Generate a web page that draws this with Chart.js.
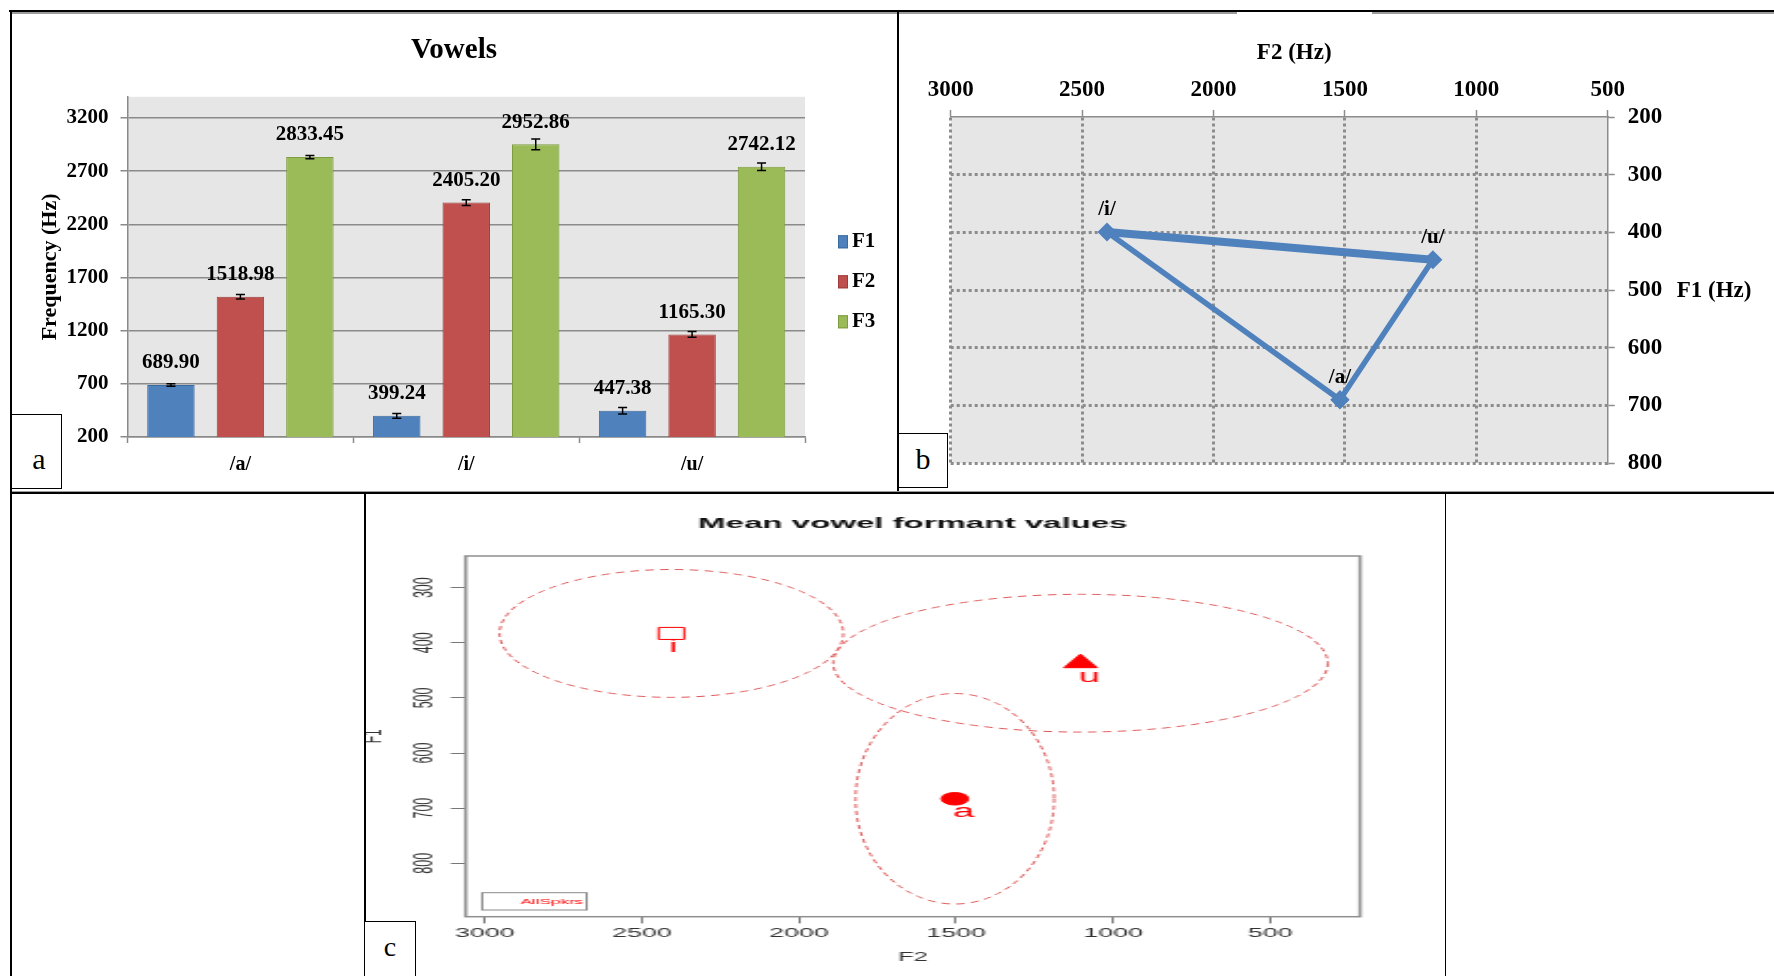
<!DOCTYPE html>
<html lang="en">
<head>
<meta charset="UTF-8">
<title>Vowel formants</title>
<script src="https://cdn.jsdelivr.net/npm/chart.js"></script>
<style>
  html, body { margin: 0; padding: 0; background: #fff; }
  body { position: relative; width: 1774px; height: 976px; overflow: hidden; }
  .pane { position: absolute; }
  .rule { position: absolute; background: #000; }
  .rule.grey { background: #9c9c9c; }
  .tag { position: absolute; box-sizing: border-box; border: 1px solid #000; background: #fff;
         font-family: 'Liberation Serif', serif; color: #000; }
  .tag span { position: absolute; left: 0; right: 0; text-align: center; line-height: 1; }
</style>
</head>
<body>
<div class="pane" style="left:12px;top:14px;width:884px;height:476px"><canvas id="vowelBars"></canvas></div>
<div class="pane" style="left:900px;top:14px;width:874px;height:476px"><canvas id="vowelSpace"></canvas></div>
<!-- the R plot sits stretched sideways inside its frame -->
<div class="pane" style="left:364px;top:494px;width:515px;height:482px;transform:scaleX(2.13);transform-origin:0 0"><canvas id="vowelEllipses"></canvas></div>

<div class="rule" style="left:9px;top:10px;width:1765px;height:2px"></div>
<div class="rule grey" style="left:12px;top:12px;width:1225px;height:2px"></div>
<div class="rule grey" style="left:1372px;top:12px;width:402px;height:2px"></div>
<div class="rule" style="left:10px;top:10px;width:2px;height:966px"></div>
<div class="rule" style="left:897px;top:10px;width:2px;height:483px"></div>
<div class="rule grey" style="left:12px;top:490.5px;width:1762px;height:1.5px"></div>
<div class="rule" style="left:10px;top:492px;width:1764px;height:2px"></div>
<div class="rule" style="left:364px;top:493px;width:1.5px;height:483px"></div>
<div class="rule" style="left:1444.5px;top:493px;width:1.5px;height:483px"></div>

<div class="tag" style="left:11px;top:414px;width:51px;height:75px;font-size:30px"><span style="top:29px;padding-left:5px">a</span></div>
<div class="tag" style="left:898px;top:433px;width:50px;height:55px;font-size:30px"><span style="top:10px">b</span></div>
<div class="tag" style="left:364px;top:921px;width:52px;height:60px;font-size:28px"><span style="top:10.5px">c</span></div>

<script>
// mean formants (Hz) per vowel, with error bar half-widths
const vowels = ['/a/', '/i/', '/u/'];
const meanF1 = [689.90, 399.24, 447.38];
const meanF2 = [1518.98, 2405.20, 1165.30];
const meanF3 = [2833.45, 2952.86, 2742.12];
const errF1 = [12, 22, 30];
const errF2 = [22, 27, 27];
const errF3 = [15, 50, 35];
const freqTicks = [200, 700, 1200, 1700, 2200, 2700, 3200];

// vowel triangle: a -> i -> u -> back to a
const triangleOrder = [0, 1, 2, 0];
const f2Ticks = [3000, 2500, 2000, 1500, 1000, 500];
const f1Ticks = [200, 300, 400, 500, 600, 700, 800];

// speaker means with spread ellipses (R plot)
const rVowels = ['i', 'u', 'a'];
const rF2 = [2406, 1104, 1504];
const rF1 = [383, 437, 683];
const rF2Spread = [547, 787, 316];
const rF1Spread = [116, 125, 191];
const rF2Ticks = [3000, 2500, 2000, 1500, 1000, 500];
const rF1Ticks = [300, 400, 500, 600, 700, 800];

Chart.defaults.font.family = "'Liberation Serif', serif";
Chart.defaults.color = '#000';
Chart.defaults.animation = false;
Chart.defaults.plugins.tooltip.enabled = false;
Chart.defaults.plugins.legend.display = false;

const serifBold = size => ({ family: "'Liberation Serif', serif", size, weight: 'bold' });
const sans = (size, weight) => ({ family: "'Liberation Sans', Arial, sans-serif", size, weight: weight || 'normal' });
const fixedTicks = list => scale => { scale.ticks = list.map(value => ({ value })); };
const plain = v => String(v);

const plotBackground = {
  id: 'plotBackground',
  beforeDraw(chart, args, opts) {
    const { ctx, chartArea: a } = chart;
    ctx.save();
    ctx.fillStyle = opts.color;
    ctx.fillRect(a.left, a.top, a.width, a.height);
    ctx.restore();
  }
};

const errorBars = {
  id: 'errorBars',
  afterDatasetsDraw(chart) {
    const { ctx, scales: { y } } = chart;
    ctx.save();
    ctx.strokeStyle = '#000';
    ctx.lineWidth = 1.5;
    chart.data.datasets.forEach((ds, i) => {
      chart.getDatasetMeta(i).data.forEach((bar, j) => {
        const top = y.getPixelForValue(ds.data[j] + ds.errors[j]);
        const bot = y.getPixelForValue(ds.data[j] - ds.errors[j]);
        ctx.beginPath();
        ctx.moveTo(bar.x, top); ctx.lineTo(bar.x, bot);
        ctx.moveTo(bar.x - 4.5, top); ctx.lineTo(bar.x + 4.5, top);
        ctx.moveTo(bar.x - 4.5, bot); ctx.lineTo(bar.x + 4.5, bot);
        ctx.stroke();
      });
    });
    ctx.restore();
  }
};

const barValues = {
  id: 'barValues',
  afterDatasetsDraw(chart) {
    const { ctx } = chart;
    ctx.save();
    ctx.font = "bold 21px 'Liberation Serif'";
    ctx.fillStyle = '#000';
    ctx.textAlign = 'center';
    ctx.textBaseline = 'middle';
    chart.data.datasets.forEach((ds, i) => {
      chart.getDatasetMeta(i).data.forEach((bar, j) => {
        ctx.fillText(ds.data[j].toFixed(2), bar.x, bar.y - 22);
      });
    });
    ctx.restore();
  }
};

const sideLegend = {
  id: 'sideLegend',
  afterDraw(chart) {
    const { ctx, chartArea } = chart;
    const x = chartArea.right + 33;
    ctx.save();
    ctx.font = "bold 21px 'Liberation Serif'";
    ctx.textBaseline = 'middle';
    chart.data.datasets.forEach((ds, i) => {
      const y = chartArea.top + 145 + i * 40;
      ctx.fillStyle = ds.backgroundColor;
      ctx.fillRect(x, y - 6.5, 10, 13);
      ctx.strokeStyle = ds.borderColor;
      ctx.lineWidth = 1;
      ctx.strokeRect(x + 0.5, y - 6, 9, 12);
      ctx.fillStyle = '#000';
      ctx.fillText(ds.label, x + 14, y);
    });
    ctx.restore();
  }
};

// a: grouped bars of F1-F3
new Chart(document.getElementById('vowelBars'), {
  type: 'bar',
  data: {
    labels: vowels,
    datasets: [
      { label: 'F1', data: meanF1, errors: errF1, backgroundColor: '#4F81BD', borderColor: '#3A6B9F' },
      { label: 'F2', data: meanF2, errors: errF2, backgroundColor: '#C0504D', borderColor: '#9C3C39' },
      { label: 'F3', data: meanF3, errors: errF3, backgroundColor: '#9BBB59', borderColor: '#7D9C40' }
    ]
  },
  options: {
    responsive: true,
    maintainAspectRatio: false,
    datasets: { bar: { categoryPercentage: 0.923, barPercentage: 0.683, borderWidth: 1 } },
    scales: {
      x: {
        grid: { offset: true, drawOnChartArea: false, tickLength: 6, tickColor: '#8a8a8a', tickWidth: 1.5 },
        border: { color: '#8a8a8a', width: 1.5 },
        ticks: { font: serifBold(20), color: '#000', padding: 10 },
        afterFit: s => { s.height = 53; }
      },
      y: {
        min: 200,
        max: 3400,
        afterBuildTicks: fixedTicks(freqTicks),
        grid: { color: '#8a8a8a', lineWidth: 1.5, tickLength: 7 },
        border: { color: '#8a8a8a', width: 1.5 },
        ticks: { font: serifBold(21), color: '#000', padding: 12, callback: plain },
        title: { display: true, text: 'Frequency (Hz)', font: serifBold(22), color: '#000', padding: { top: 25, bottom: 0 } },
        afterFit: s => { s.width = 115.5; }
      },
      // empty strip on the right that holds the F1-F3 key
      keyStrip: {
        position: 'right',
        grid: { display: false },
        border: { display: false },
        ticks: { display: false },
        afterFit: s => { s.width = 91; }
      }
    },
    plugins: {
      title: { display: true, text: 'Vowels', font: serifBold(29), color: '#000', padding: { top: 19, bottom: 29 } },
      plotBackground: { color: '#e6e6e6' }
    }
  },
  plugins: [plotBackground, errorBars, barValues, sideLegend]
});

const pointCaptions = {
  id: 'pointCaptions',
  afterDatasetsDraw(chart) {
    const { ctx } = chart;
    const pts = chart.getDatasetMeta(0).data;
    ctx.save();
    ctx.font = "bold 21px 'Liberation Serif'";
    ctx.fillStyle = '#000';
    ctx.textAlign = 'center';
    ctx.textBaseline = 'middle';
    triangleOrder.slice(0, 3).forEach((k, i) => ctx.fillText(vowels[k], pts[i].x, pts[i].y - 22));
    ctx.restore();
  }
};

const axisCaptions = {
  id: 'axisCaptions',
  afterDraw(chart) {
    const { ctx, chartArea: a } = chart;
    ctx.save();
    ctx.font = "bold 23px 'Liberation Serif'";
    ctx.fillStyle = '#000';
    ctx.textBaseline = 'middle';
    ctx.textAlign = 'center';
    ctx.fillText('F2 (Hz)', (a.left + a.right) / 2 + 15, a.top - 64);
    ctx.textAlign = 'left';
    ctx.fillText('F1 (Hz)', a.right + 69, (a.top + a.bottom) / 2 + 1);
    ctx.restore();
  }
};

const dotted = '#8c8c8c';

// b: F1/F2 vowel triangle
new Chart(document.getElementById('vowelSpace'), {
  type: 'scatter',
  data: {
    datasets: [{
      data: triangleOrder.map(k => ({ x: meanF2[k], y: meanF1[k] })),
      showLine: true,
      borderColor: '#4F81BD',
      backgroundColor: '#4F81BD',
      borderWidth: 5,
      pointStyle: 'rectRot',
      pointRadius: 9.5,
      pointBorderWidth: 0,
      segment: { borderWidth: ctx => (ctx.p0DataIndex === 1 ? 8 : 5.5) }
    }]
  },
  options: {
    responsive: true,
    maintainAspectRatio: false,
    layout: { padding: { left: 50.7, bottom: 23.3 } },
    scales: {
      x: {
        type: 'linear',
        position: 'top',
        reverse: true,
        min: 500,
        max: 3000,
        afterBuildTicks: fixedTicks(f2Ticks),
        grid: {
          color: c => (c.tick && c.tick.value === 500 ? 'rgba(0,0,0,0)' : dotted),
          lineWidth: 3, tickLength: 7, tickColor: dotted, tickWidth: 1.5, tickBorderDash: []
        },
        border: { color: dotted, width: 1.5, dash: [3, 3] },
        ticks: { font: serifBold(23), color: '#000', padding: 6, callback: plain },
        afterFit: s => { s.height = 103; }
      },
      y: {
        type: 'linear',
        position: 'right',
        reverse: true,
        min: 200,
        max: 800,
        afterBuildTicks: fixedTicks(f1Ticks),
        grid: {
          color: c => (c.tick && c.tick.value === 200 ? 'rgba(0,0,0,0)' : dotted),
          lineWidth: 3, tickLength: 7, tickColor: dotted, tickWidth: 1.5, tickBorderDash: []
        },
        border: { color: dotted, width: 1.5, dash: [3, 3] },
        ticks: { font: serifBold(23), color: '#000', padding: 13, callback: plain },
        afterFit: s => { s.width = 166.3; }
      }
    },
    plugins: { plotBackground: { color: '#e6e6e6' } }
  },
  plugins: [plotBackground, pointCaptions, axisCaptions]
});

const spreadEllipses = {
  id: 'spreadEllipses',
  beforeDatasetsDraw(chart) {
    const { ctx, chartArea: a, scales: { x, y } } = chart;
    ctx.save();
    ctx.strokeStyle = '#8f8f8f';
    ctx.lineWidth = 1.5;
    ctx.strokeRect(a.left, a.top, a.width, a.height);
    ctx.beginPath();
    ctx.rect(a.left, a.top, a.width, a.height);
    ctx.clip();
    ctx.strokeStyle = '#de5656';
    ctx.lineWidth = 1;
    ctx.setLineDash([4, 3]);
    rVowels.forEach((v, i) => {
      const cx = x.getPixelForValue(rF2[i]);
      const cy = y.getPixelForValue(rF1[i]);
      const rx = Math.abs(x.getPixelForValue(rF2[i] + rF2Spread[i]) - cx);
      const ry = Math.abs(y.getPixelForValue(rF1[i] + rF1Spread[i]) - cy);
      ctx.beginPath();
      ctx.ellipse(cx, cy, rx, ry, 0, 0, Math.PI * 2);
      ctx.stroke();
    });
    ctx.restore();
  },
  afterDatasetsDraw(chart) {
    const { ctx, chartArea: a } = chart;
    const pts = chart.getDatasetMeta(0).data;
    ctx.save();
    ctx.fillStyle = '#ff0000';
    ctx.font = "18px 'Liberation Sans'";
    ctx.textAlign = 'left';
    ctx.textBaseline = 'middle';
    rVowels.forEach((v, i) => ctx.fillText(v, pts[i].x - 1, pts[i].y + 13.5));
    // speaker legend, bottom left
    ctx.strokeStyle = '#8a8a8a';
    ctx.lineWidth = 1;
    ctx.strokeRect(a.left + 7.8, a.bottom - 24, 49, 17.3);
    ctx.font = "8px 'Liberation Sans'";
    ctx.fillText('AllSpkrs', a.left + 25.8, a.bottom - 15);
    ctx.restore();
  }
};

// c: mean vowel formants with spread ellipses
new Chart(document.getElementById('vowelEllipses'), {
  type: 'scatter',
  data: {
    datasets: [{
      data: rVowels.map((v, i) => ({ x: rF2[i], y: rF1[i] })),
      pointStyle: ['rect', 'triangle', 'circle'],
      pointRadius: [8.5, 9, 6.3],
      pointBackgroundColor: ['rgba(255,0,0,0)', '#ff0000', '#ff0000'],
      pointBorderColor: '#ff0000',
      pointBorderWidth: 1
    }]
  },
  options: {
    responsive: true,
    maintainAspectRatio: false,
    layout: { padding: { right: 47.4 } },
    scales: {
      x: {
        type: 'linear',
        reverse: true,
        min: 214.6,
        max: 3061,
        afterBuildTicks: fixedTicks(rF2Ticks),
        grid: { drawOnChartArea: false, tickLength: 6.7, tickColor: '#777', tickWidth: 1 },
        border: { display: false },
        ticks: { font: sans(12.5), color: '#333', padding: 3, callback: plain },
        title: { display: true, text: 'F2', font: sans(12), color: '#333', padding: { top: 0, bottom: 10.8 } },
        afterFit: s => { s.height = 59.3; }
      },
      y: {
        type: 'linear',
        reverse: true,
        min: 242.5,
        max: 897,
        afterBuildTicks: fixedTicks(rF1Ticks),
        grid: { drawOnChartArea: false, tickLength: 7, tickColor: '#777', tickWidth: 1 },
        border: { display: false },
        ticks: { font: sans(12.5), color: '#333', minRotation: 90, maxRotation: 90, crossAlign: 'center', padding: 1.5, callback: plain },
        title: { display: true, text: 'F1', font: sans(12), color: '#333', padding: { top: -2.3, bottom: 0 } },
        afterFit: s => { s.width = 47.7; }
      }
    },
    plugins: {
      title: {
        display: true, fullSize: false, text: 'Mean vowel formant values',
        font: sans(15.5, 'bold'), color: '#111', padding: { top: 20, bottom: 23.4 }
      }
    }
  },
  plugins: [spreadEllipses]
});
</script>
</body>
</html>
